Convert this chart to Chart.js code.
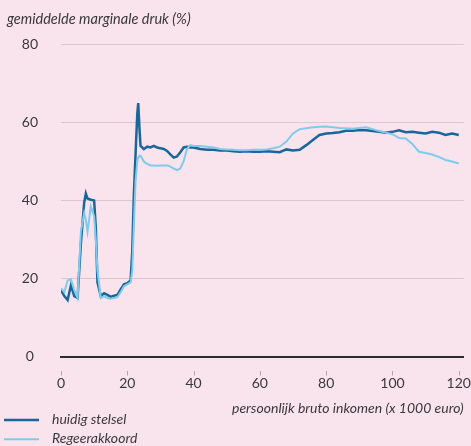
<!DOCTYPE html>
<html>
<head>
<meta charset="utf-8">
<script src="https://cdn.jsdelivr.net/npm/chart.js@4.4.1/dist/chart.umd.min.js"></script>
<style>
html,body{margin:0;padding:0;background:#f9e3ec;}
canvas{display:block;}
</style>
</head>
<body>
<canvas id="c" width="471" height="446"></canvas>
<script>
// ---- data (x 1000 euro, %) ----
const income = [0,1,2,3,4,5,6,7,7.5,8,9,10,10.5,11,12,13,14,15,16,17,18,19,20,21,21.5,22,22.5,23,23.3,23.7,24,25,26,27,28,29,30,31,32,33,34,35,36,37,38,39,40,
  42,44,46,48,50,52,54,56,58,60,62,64,66,68,70,72,74,76,78,80,82,84,86,88,90,92,94,96,98,100,102,104,106,108,110,112,114,116,118,120];
const huidigStelsel = [17,15.5,14.5,18.3,15.5,15,29,39.5,41.8,40.5,40.2,40,33,19,15.5,16.2,15.8,15.3,15.6,15.8,17.2,18.5,18.8,19.5,27,42,52,62,65,58,54,53.2,53.8,53.6,54,53.6,53.4,53.2,52.7,51.8,51,51.3,52.4,53.6,53.8,53.6,53.6,
  53.2,53,53,52.8,52.8,52.6,52.5,52.6,52.5,52.5,52.6,52.5,52.4,53.1,52.8,53,54.2,55.5,56.8,57.2,57.3,57.5,57.9,57.9,58.1,58,57.8,57.6,57.4,57.6,58,57.5,57.6,57.4,57.2,57.6,57.4,56.8,57.2,56.8];
const regeerakkoord = [17.5,16.5,19.5,19.8,17,15,32,36.8,35,32,38.5,36,30,22,15,15.5,15,14.8,15,15.2,16.5,18,18.5,19,22,34,45,50,51,51.5,51.5,50,49.4,49,49,48.9,49,49,49,48.7,48.2,47.8,48.2,50,53.2,54.2,54,
  54,53.8,53.6,53.2,53.1,53,52.9,52.9,53,53,53.1,53.4,53.8,55.1,57.2,58.3,58.5,58.8,58.9,59,58.8,58.6,58.5,58.4,58.6,58.8,58.3,57.8,57.4,57,56,55.9,54.5,52.5,52.2,51.8,51.2,50.4,50,49.5];
const seriesLabels = ['huidig stelsel', 'Regeerakkoord'];
const xTicks = [0,20,40,60,80,100,120];
const yTicks = [0,20,40,60,80];
const yTitle = 'gemiddelde marginale druk (%)';
const xTitle = 'persoonlijk bruto inkomen (x 1000 euro)';

const BG = '#f9e3ec';
const TEXT = '#3a3a3a';
const FONT = 'Lato';

const toPoints = vals => income.map((x, i) => ({x: x, y: vals[i]}));

const decor = {
  id: 'decor',
  beforeDraw(chart) {
    const ctx = chart.ctx;
    ctx.save();
    ctx.fillStyle = BG;
    ctx.fillRect(0, 0, chart.width, chart.height);
    ctx.restore();
  },
  afterDraw(chart) {
    const ctx = chart.ctx;
    const xs = chart.scales.x;
    ctx.save();
    // small detached tick marks under the axis
    ctx.strokeStyle = '#b3a4aa';
    ctx.lineWidth = 1;
    xs.ticks.forEach(t => {
      const px = Math.round(xs.getPixelForValue(t.value)) + 0.5;
      ctx.beginPath();
      ctx.moveTo(px, xs.top + 14.5);
      ctx.lineTo(px, xs.top + 19);
      ctx.stroke();
    });
    ctx.fillStyle = TEXT;
    ctx.font = 'italic 14.5px ' + FONT;
    ctx.textBaseline = 'middle';
    ctx.textAlign = 'left';
    ctx.fillText(yTitle, 7, 19);
    ctx.font = 'italic 14px ' + FONT;
    chart.data.datasets.forEach((ds, i) => {
      const y = 420 + i * 19.3;
      ctx.strokeStyle = ds.borderColor;
      ctx.lineWidth = ds.borderWidth;
      ctx.beginPath();
      ctx.moveTo(4, y);
      ctx.lineTo(39, y);
      ctx.stroke();
      ctx.fillStyle = TEXT;
      ctx.fillText(ds.label, 52, y - 1);
    });
    ctx.restore();
  }
};

new Chart(document.getElementById('c'), {
  type: 'line',
  data: {
    datasets: [
      {label: seriesLabels[0], data: toPoints(huidigStelsel), borderColor: '#1a6599', borderWidth: 2.5, pointRadius: 0, tension: 0, fill: false, order: 1},
      {label: seriesLabels[1], data: toPoints(regeerakkoord), borderColor: '#80cbec', borderWidth: 2, pointRadius: 0, tension: 0, fill: false, order: 0}
    ]
  },
  options: {
    responsive: false,
    animation: false,
    devicePixelRatio: 1,
    layout: {padding: {top: 44.5, right: 7, bottom: 30.5, left: 0}},
    plugins: {legend: {display: false}, tooltip: {enabled: false}},
    scales: {
      x: {
        type: 'linear',
        min: 0,
        max: 121.5,
        afterBuildTicks: s => { s.ticks = xTicks.map(v => ({value: v})); },
        afterFit: s => { s.height = 59; },
        ticks: {autoSkip: false, maxRotation: 0, padding: 0, color: TEXT, font: {family: FONT, size: 14}},
        grid: {drawOnChartArea: false, drawTicks: true, tickLength: 19, tickColor: 'rgba(0,0,0,0)'},
        border: {display: true, color: '#2b2b2b', width: 2},
        title: {display: true, text: xTitle, align: 'end', color: TEXT, font: {family: FONT, size: 14, style: 'italic', lineHeight: 1}, padding: 0}
      },
      y: {
        min: 0,
        max: 80,
        afterBuildTicks: s => { s.ticks = yTicks.map(v => ({value: v})); },
        afterFit: s => { s.width = 61; },
        ticks: {crossAlign: 'center', padding: 23, color: TEXT, font: {family: FONT, size: 14}},
        grid: {drawTicks: false, color: c => (c.tick && c.tick.value === 0) ? 'rgba(0,0,0,0)' : '#d9c8cf', lineWidth: 1},
        border: {display: false}
      }
    }
  },
  plugins: [decor]
});
</script>
</body>
</html>
